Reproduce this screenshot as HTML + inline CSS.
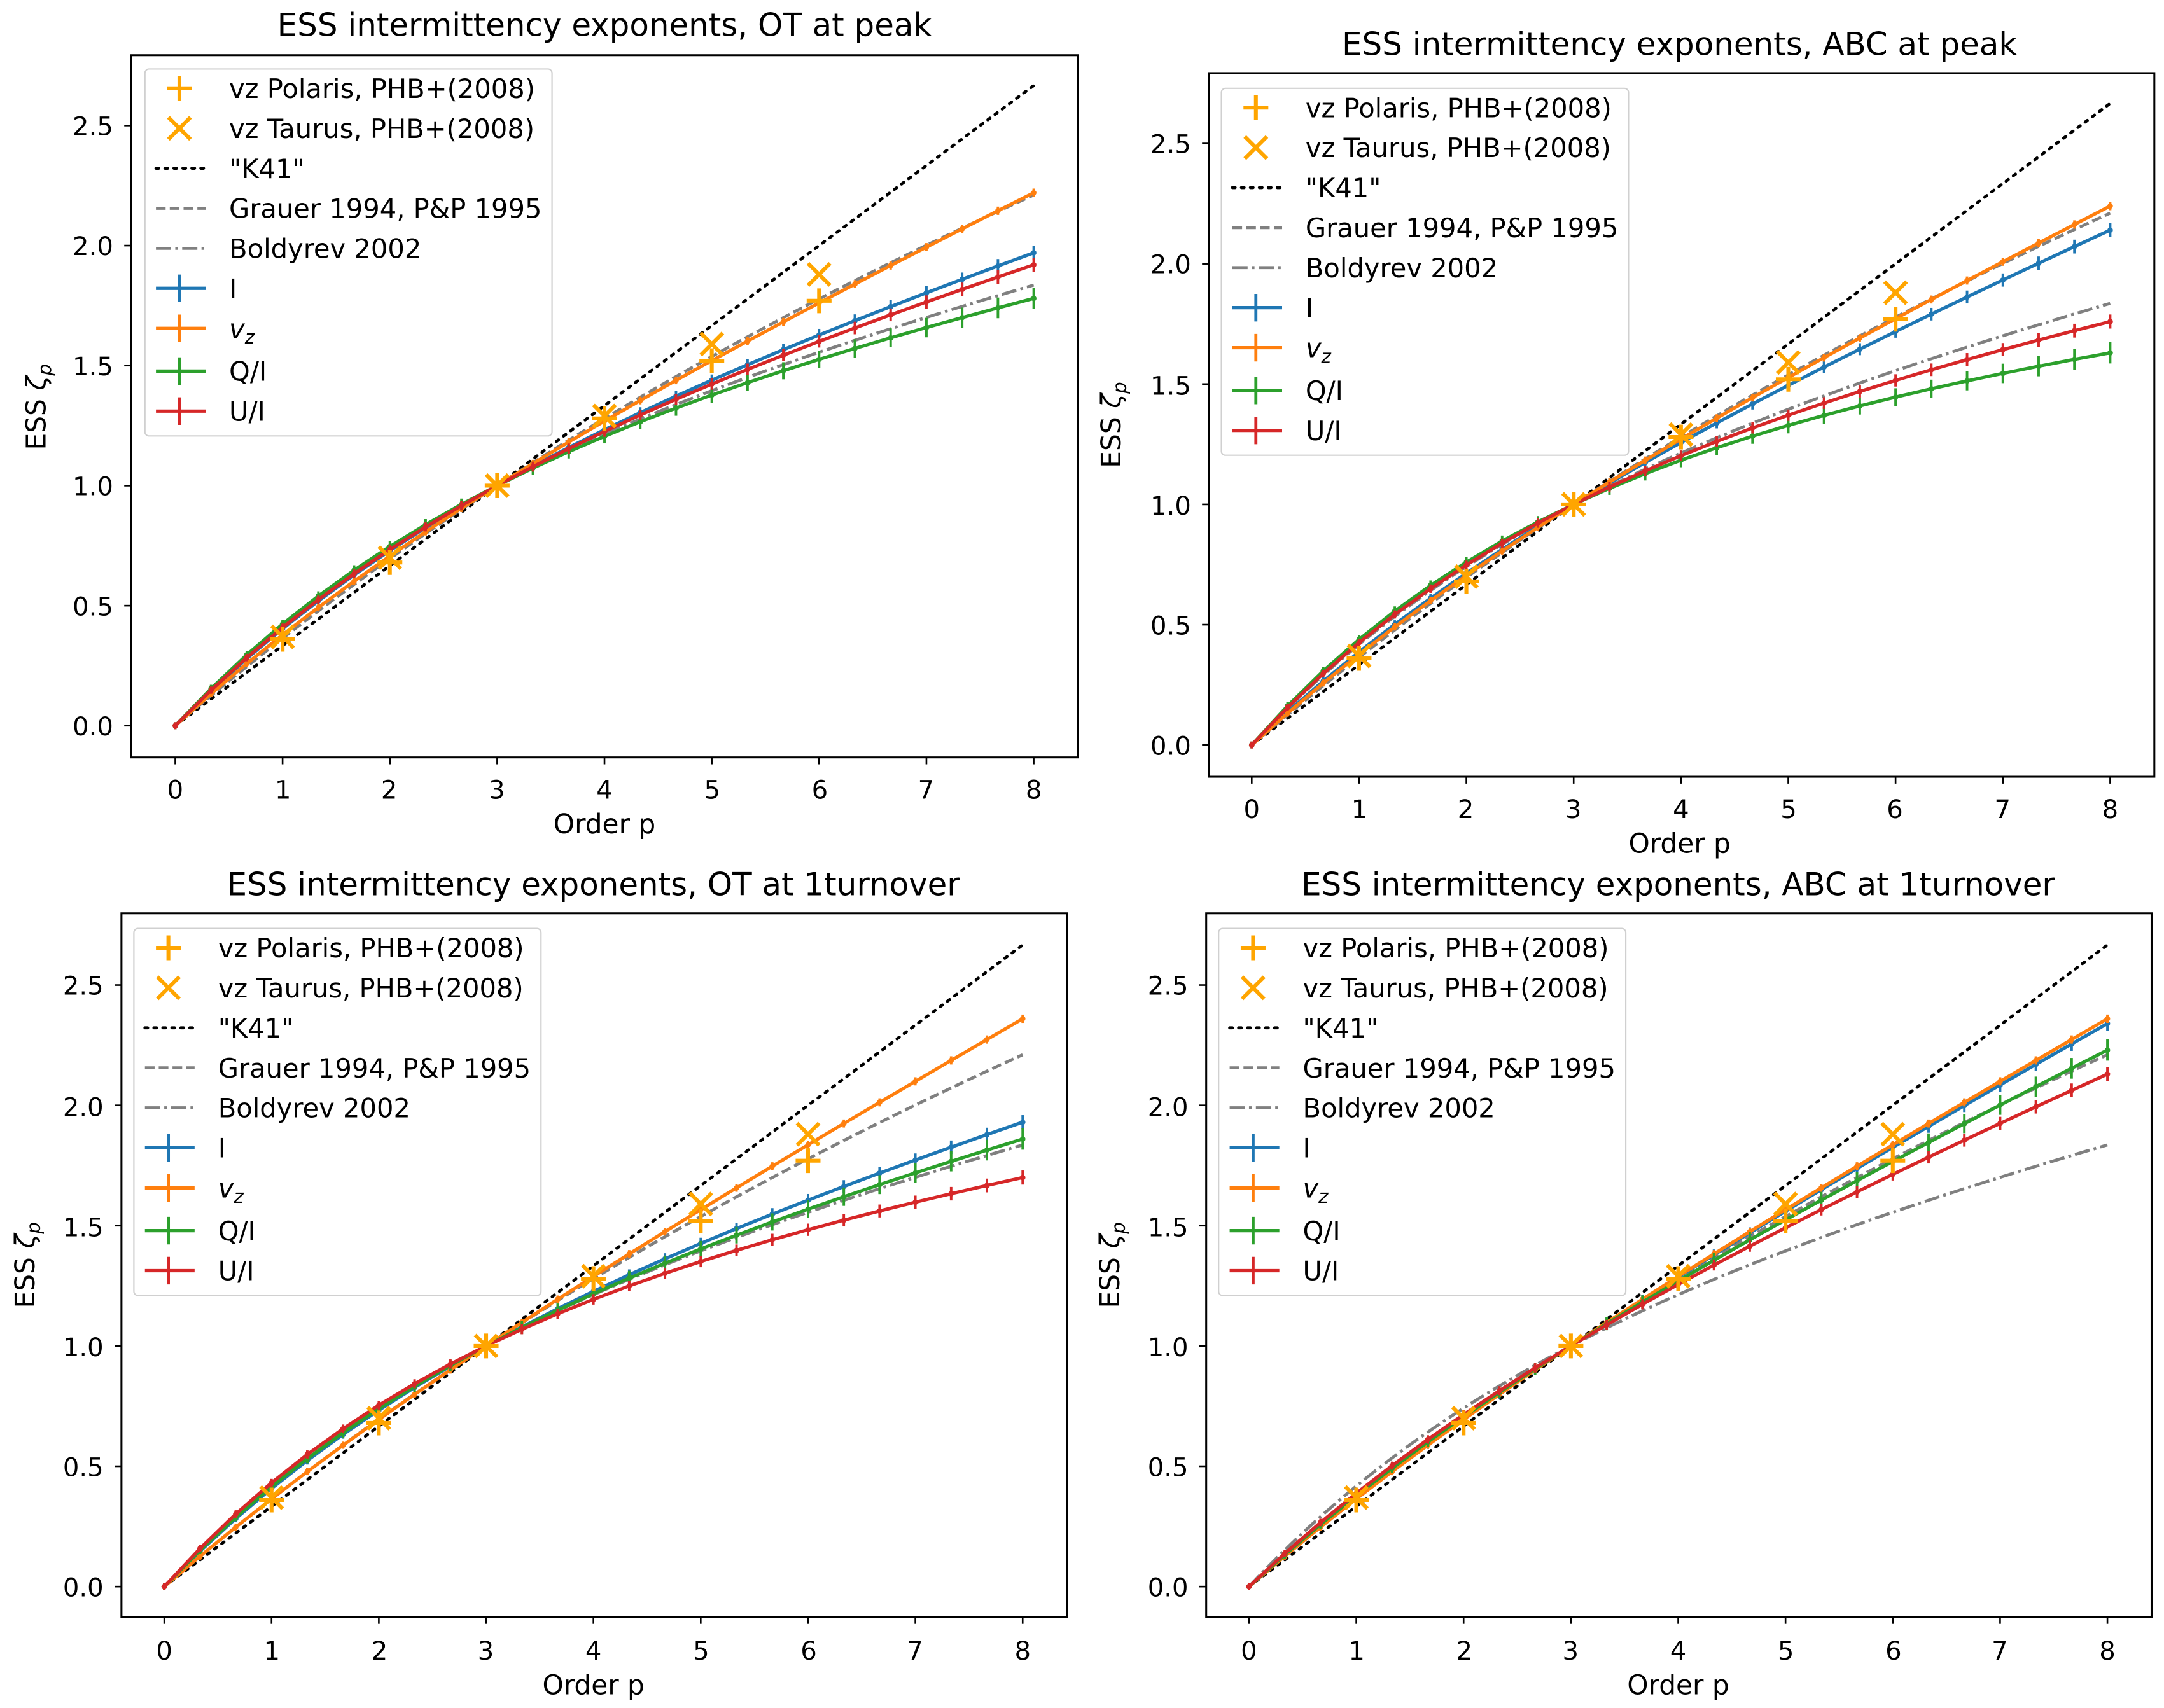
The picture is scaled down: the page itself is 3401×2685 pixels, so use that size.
<!DOCTYPE html>
<html><head><meta charset="utf-8"><style>
html,body{margin:0;padding:0;background:#fff}
svg{display:block}
text{font-family:"DejaVu Sans","Liberation Sans",sans-serif;fill:#000}
</style></head><body>
<svg id="s" xmlns="http://www.w3.org/2000/svg" width="3401" height="2685" viewBox="0 0 1568 1238" preserveAspectRatio="none">
<rect width="1568" height="1238" fill="#fff"/>
<g id="plots"></g>
<!-- titles -->
<text x="438" y="26" font-size="23" text-anchor="middle">ESS intermittency exponents, OT at peak</text>
<text x="1217" y="40" font-size="23" text-anchor="middle">ESS intermittency exponents, ABC at peak</text>
<text x="430" y="649" font-size="23" text-anchor="middle">ESS intermittency exponents, OT at 1turnover</text>
<text x="1216" y="649" font-size="23" text-anchor="middle">ESS intermittency exponents, ABC at 1turnover</text>
<!-- x labels -->
<text x="438" y="604" font-size="19.5" text-anchor="middle">Order p</text>
<text x="1217" y="618" font-size="19.5" text-anchor="middle">Order p</text>
<text x="430" y="1228" font-size="19.5" text-anchor="middle">Order p</text>
<text x="1216" y="1228" font-size="19.5" text-anchor="middle">Order p</text>
<!-- y labels -->
<text transform="translate(33,295) rotate(-90)" font-size="19.5" text-anchor="middle">ESS <tspan font-style="italic">ζ</tspan><tspan font-size="13.5" font-style="italic" dy="4">p</tspan></text>
<text transform="translate(812,308) rotate(-90)" font-size="19.5" text-anchor="middle">ESS <tspan font-style="italic">ζ</tspan><tspan font-size="13.5" font-style="italic" dy="4">p</tspan></text>
<text transform="translate(25,917) rotate(-90)" font-size="19.5" text-anchor="middle">ESS <tspan font-style="italic">ζ</tspan><tspan font-size="13.5" font-style="italic" dy="4">p</tspan></text>
<text transform="translate(811,917) rotate(-90)" font-size="19.5" text-anchor="middle">ESS <tspan font-style="italic">ζ</tspan><tspan font-size="13.5" font-style="italic" dy="4">p</tspan></text>
<!-- tick labels -->
<g font-size="18.5" text-anchor="middle">
<text x="127" y="579">0</text><text x="205" y="579">1</text><text x="282" y="579">2</text><text x="360" y="579">3</text><text x="438" y="579">4</text><text x="516" y="579">5</text><text x="594" y="579">6</text><text x="671" y="579">7</text><text x="749" y="579">8</text>
<text x="907" y="593">0</text><text x="985" y="593">1</text><text x="1062" y="593">2</text><text x="1140" y="593">3</text><text x="1218" y="593">4</text><text x="1296" y="593">5</text><text x="1373" y="593">6</text><text x="1451" y="593">7</text><text x="1529" y="593">8</text>
<text x="119" y="1203">0</text><text x="197" y="1203">1</text><text x="275" y="1203">2</text><text x="352" y="1203">3</text><text x="430" y="1203">4</text><text x="508" y="1203">5</text><text x="586" y="1203">6</text><text x="663" y="1203">7</text><text x="741" y="1203">8</text>
<text x="905" y="1203">0</text><text x="983" y="1203">1</text><text x="1061" y="1203">2</text><text x="1138" y="1203">3</text><text x="1216" y="1203">4</text><text x="1294" y="1203">5</text><text x="1372" y="1203">6</text><text x="1449" y="1203">7</text><text x="1527" y="1203">8</text>
</g>
<g font-size="18.5" text-anchor="end">
<text x="82" y="533">0.0</text><text x="82" y="446">0.5</text><text x="82" y="359">1.0</text><text x="82" y="272">1.5</text><text x="82" y="185">2.0</text><text x="82" y="98">2.5</text>
<text x="863" y="547">0.0</text><text x="863" y="460">0.5</text><text x="863" y="373">1.0</text><text x="863" y="286">1.5</text><text x="863" y="198">2.0</text><text x="863" y="111">2.5</text>
<text x="75" y="1157">0.0</text><text x="75" y="1070">0.5</text><text x="75" y="983">1.0</text><text x="75" y="896">1.5</text><text x="75" y="809">2.0</text><text x="75" y="721">2.5</text>
<text x="861" y="1157">0.0</text><text x="861" y="1070">0.5</text><text x="861" y="983">1.0</text><text x="861" y="896">1.5</text><text x="861" y="809">2.0</text><text x="861" y="721">2.5</text>
</g>
<!-- legends -->
<g id="legends">
<g transform="translate(105,50)">
<rect x="0" y="0" width="295" height="266" rx="3" fill="#fff" fill-opacity="0.85" stroke="#d0d0d0"/>
<g font-size="19.2">
<text x="61" y="21">vz Polaris, PHB+(2008)</text>
<text x="61" y="50">vz Taurus, PHB+(2008)</text>
<text x="61" y="79">"K41"</text>
<text x="61" y="108">Grauer 1994, P&amp;P 1995</text>
<text x="61" y="137">Boldyrev 2002</text>
<text x="61" y="166">I</text>
<text x="61" y="195"><tspan font-style="italic">v</tspan><tspan font-size="13.5" font-style="italic" dy="4">z</tspan></text>
<text x="61" y="226">Q/I</text>
<text x="61" y="255">U/I</text>
</g></g>
<g transform="translate(885,64)">
<rect x="0" y="0" width="295" height="266" rx="3" fill="#fff" fill-opacity="0.85" stroke="#d0d0d0"/>
<g font-size="19.2">
<text x="61" y="21">vz Polaris, PHB+(2008)</text>
<text x="61" y="50">vz Taurus, PHB+(2008)</text>
<text x="61" y="79">"K41"</text>
<text x="61" y="108">Grauer 1994, P&amp;P 1995</text>
<text x="61" y="137">Boldyrev 2002</text>
<text x="61" y="166">I</text>
<text x="61" y="195"><tspan font-style="italic">v</tspan><tspan font-size="13.5" font-style="italic" dy="4">z</tspan></text>
<text x="61" y="226">Q/I</text>
<text x="61" y="255">U/I</text>
</g></g>
<g transform="translate(97,673)">
<rect x="0" y="0" width="295" height="266" rx="3" fill="#fff" fill-opacity="0.85" stroke="#d0d0d0"/>
<g font-size="19.2">
<text x="61" y="21">vz Polaris, PHB+(2008)</text>
<text x="61" y="50">vz Taurus, PHB+(2008)</text>
<text x="61" y="79">"K41"</text>
<text x="61" y="108">Grauer 1994, P&amp;P 1995</text>
<text x="61" y="137">Boldyrev 2002</text>
<text x="61" y="166">I</text>
<text x="61" y="195"><tspan font-style="italic">v</tspan><tspan font-size="13.5" font-style="italic" dy="4">z</tspan></text>
<text x="61" y="226">Q/I</text>
<text x="61" y="255">U/I</text>
</g></g>
<g transform="translate(883,673)">
<rect x="0" y="0" width="295" height="266" rx="3" fill="#fff" fill-opacity="0.85" stroke="#d0d0d0"/>
<g font-size="19.2">
<text x="61" y="21">vz Polaris, PHB+(2008)</text>
<text x="61" y="50">vz Taurus, PHB+(2008)</text>
<text x="61" y="79">"K41"</text>
<text x="61" y="108">Grauer 1994, P&amp;P 1995</text>
<text x="61" y="137">Boldyrev 2002</text>
<text x="61" y="166">I</text>
<text x="61" y="195"><tspan font-style="italic">v</tspan><tspan font-size="13.5" font-style="italic" dy="4">z</tspan></text>
<text x="61" y="226">Q/I</text>
<text x="61" y="255">U/I</text>
</g></g>
</g>
</svg>
<script>
(function(){
var NS="http://www.w3.org/2000/svg";
var plots=document.getElementById('plots');
var legends=document.getElementById('legends').children;
function el(tag,attrs,parent){var e=document.createElementNS(NS,tag);for(var k in attrs)e.setAttribute(k,attrs[k]);(parent||plots).appendChild(e);return e;}
var K=function(p){return p/3;};
var G=function(p){return p/9+2*(1-Math.pow(2/3,p/3));};
var B=function(p){return p/9+1-Math.pow(1/3,p/3);};
function fam(v8){var t=(v8-8/3)/(B(8)-8/3);return function(p){return K(p)+t*(B(p)-K(p));};}
var panels=[
 {box:[95,40,781,549],x0:127,x8:749,y0:526,y25:91,v:[1.97,2.22,1.78,1.92],leg:0},
 {box:[876,53,1561,563],x0:907,x8:1529,y0:540,y25:104,v:[2.14,2.24,1.63,1.76],leg:1},
 {box:[88,662,773,1172],x0:119,x8:741,y0:1150,y25:714,v:[1.93,2.36,1.86,1.70],leg:2},
 {box:[874,662,1559,1172],x0:905,x8:1527,y0:1150,y25:714,v:[2.34,2.36,2.23,2.13],leg:3}
];
var cols=['#1f77b4','#ff7f0e','#2ca02c','#d62728'];
var errs=[0.015,0.003,0.03,0.015];
var pol=[[1,0.36],[2,0.68],[3,1.0],[4,1.28],[5,1.52],[6,1.77]];
var tau=[[1,0.37],[2,0.70],[3,1.0],[4,1.29],[5,1.59],[6,1.88]];
var OR='#ffa500';
panels.forEach(function(P,pi){
 var X=function(p){return P.x0+(P.x8-P.x0)*p/8;};
 var Y=function(v){return P.y0-(P.y0-P.y25)*v/2.5;};
 var b=P.box;
 var clipId='c'+pi;
 var cp=el('clipPath',{id:clipId});el('rect',{x:b[0],y:b[1],width:b[2]-b[0],height:b[3]-b[1]},cp);
 var g=el('g',{'clip-path':'url(#'+clipId+')'});
 function curve(f,attrs){var d='';for(var i=0;i<=80;i++){var p=i*0.1;d+=(i?'L':'M')+X(p).toFixed(2)+','+Y(f(p)).toFixed(2);}attrs.d=d;attrs.fill='none';return el('path',attrs,g);}
 curve(K,{stroke:'#000','stroke-width':2.2,'stroke-dasharray':'2,4.5','stroke-linecap':'round'});
 curve(G,{stroke:'#808080','stroke-width':2.2,'stroke-dasharray':'7,3'});
 curve(B,{stroke:'#808080','stroke-width':2.2,'stroke-dasharray':'11,3,2,3'});
 P.v.forEach(function(v8,si){
  var f=fam(v8);var d='';
  for(var i=0;i<=24;i++){var p=i/3;d+=(i?'L':'M')+X(p).toFixed(2)+','+Y(f(p)).toFixed(2);}
  el('path',{d:d,fill:'none',stroke:cols[si],'stroke-width':2.4},g);
  for(var i=0;i<=24;i++){var p=i/3;var x=X(p),y=Y(f(p));var e=(P.y0-P.y25)/2.5*errs[si]*p/8+2.5;
   el('line',{x1:x,x2:x,y1:y-e,y2:y+e,stroke:cols[si],'stroke-width':1.8},g);
   el('circle',{cx:x,cy:y,r:2,fill:cols[si]},g);}
 });
 pol.forEach(function(q){var x=X(q[0]),y=Y(q[1]);
  el('path',{d:'M'+(x-9)+','+y+'H'+(x+9)+'M'+x+','+(y-9)+'V'+(y+9),stroke:OR,'stroke-width':2.8},g);});
 tau.forEach(function(q){var x=X(q[0]),y=Y(q[1]);
  el('path',{d:'M'+(x-8)+','+(y-8)+'L'+(x+8)+','+(y+8)+'M'+(x-8)+','+(y+8)+'L'+(x+8)+','+(y-8),stroke:OR,'stroke-width':2.8},g);});
 el('rect',{x:b[0],y:b[1],width:b[2]-b[0],height:b[3]-b[1],fill:'none',stroke:'#000','stroke-width':1.4});
 for(var t=0;t<=8;t++){var x=X(t);el('line',{x1:x,x2:x,y1:b[3],y2:b[3]+5,stroke:'#000','stroke-width':1.2});}
 for(var t=0;t<=5;t++){var y=Y(t*0.5);el('line',{x1:b[0]-5,x2:b[0],y1:y,y2:y,stroke:'#000','stroke-width':1.2});}
 var L=legends[P.leg];var rows=[14,43,72,101,130,159,188,219,248];
 var hx=25;
 function h(tag,a){return el(tag,a,L);}
 h('path',{d:'M'+(hx-9)+','+rows[0]+'H'+(hx+9)+'M'+hx+','+(rows[0]-9)+'V'+(rows[0]+9),stroke:OR,'stroke-width':2.8});
 h('path',{d:'M'+(hx-8)+','+(rows[1]-8)+'L'+(hx+8)+','+(rows[1]+8)+'M'+(hx-8)+','+(rows[1]+8)+'L'+(hx+8)+','+(rows[1]-8),stroke:OR,'stroke-width':2.8});
 h('line',{x1:8,x2:44,y1:rows[2],y2:rows[2],stroke:'#000','stroke-width':2.2,'stroke-dasharray':'2,4.5','stroke-linecap':'round'});
 h('line',{x1:8,x2:44,y1:rows[3],y2:rows[3],stroke:'#808080','stroke-width':2.2,'stroke-dasharray':'7,3'});
 h('line',{x1:8,x2:44,y1:rows[4],y2:rows[4],stroke:'#808080','stroke-width':2.2,'stroke-dasharray':'11,3,2,3'});
 for(var s=0;s<4;s++){var y=rows[5+s];
  h('line',{x1:8,x2:44,y1:y,y2:y,stroke:cols[s],'stroke-width':2.4});
  h('line',{x1:hx,x2:hx,y1:y-10,y2:y+10,stroke:cols[s],'stroke-width':2.2});}
});
})();
</script>
</body></html>
